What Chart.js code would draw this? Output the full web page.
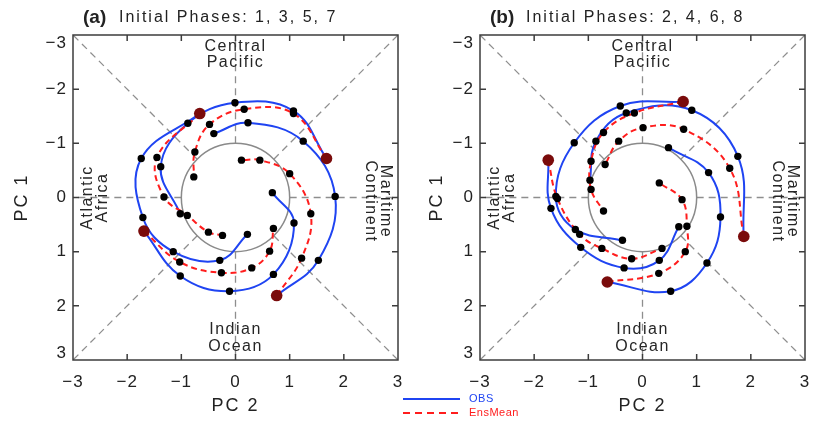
<!DOCTYPE html>
<html>
<head>
<meta charset="utf-8">
<title>MJO phase diagrams</title>
<script src="https://cdn.jsdelivr.net/npm/chart.js@4.4.1/dist/chart.umd.min.js"></script>
<style>
  html, body { margin: 0; padding: 0; background: #fff; }
  #wrap { position: relative; width: 817px; height: 424px; overflow: hidden; background: #fff; }
  #wrap canvas { position: absolute; top: 0; }
  #chartA { left: 0; }
  #chartB { left: 400px; }
</style>
</head>
<body>
<div id="wrap">
  <canvas id="chartA" width="410" height="424"></canvas>
  <canvas id="chartB" width="417" height="424"></canvas>
</div>
<script>
// Axis ticks shared by both panels (PC 2 across, PC 1 down, reversed)
const AXIS_TICKS = [-3, -2, -1, 0, 1, 2, 3];
const TICK_LABELS = ['\u22123', '\u22122', '\u22121', '0', '1', '2', '3'];

// Panel (a), initial phases 1, 3, 5, 7. Each point is [PC 2, PC 1];
// first point is the start, the rest are the 5-day markers.
const obsA1 = [[-0.66, -1.55], [-1.74, -0.72], [-1.71, 0.37], [-1.15, 1.00], [-0.29, 1.16], [0.22, 0.68]];
const ensA1 = [[-0.66, -1.55], [-1.45, -0.74], [-1.32, -0.01], [-0.89, 0.33], [-0.50, 0.64], [-0.24, 0.70]];
const obsA2 = [[1.68, -0.72], [1.07, -1.60], [-0.01, -1.75], [-0.88, -1.37], [-1.38, -0.57], [-1.02, 0.30]];
const ensA2 = [[1.68, -0.72], [1.07, -1.55], [0.16, -1.63], [-0.48, -1.35], [-0.75, -0.84], [-0.77, -0.38]];
const obsA3 = [[-1.69, 0.62], [-1.02, 1.45], [-0.11, 1.73], [0.70, 1.42], [1.08, 0.47], [0.68, -0.09]];
const ensA3 = [[-1.69, 0.62], [-1.03, 1.19], [-0.26, 1.39], [0.30, 1.30], [0.63, 0.99], [0.70, 0.57]];
const obsA4 = [[0.76, 1.81], [1.53, 1.16], [1.84, -0.02], [1.25, -1.04], [0.23, -1.38], [-0.40, -1.18]];
const ensA4 = [[0.76, 1.81], [1.22, 1.12], [1.39, 0.30], [1.00, -0.44], [0.45, -0.69], [0.11, -0.69]];

// Panel (b), initial phases 2, 4, 6, 8
const obsB1 = [[0.75, -1.77], [-0.41, -1.69], [-1.26, -1.01], [-1.60, -0.02], [-1.24, 0.59], [-0.37, 0.79]];
const ensB1 = [[0.75, -1.77], [-0.15, -1.56], [-0.72, -1.20], [-0.95, -0.67], [-0.95, -0.15], [-0.72, 0.25]];
const obsB2 = [[-1.74, -0.69], [-1.69, 0.20], [-1.14, 0.92], [-0.34, 1.30], [0.31, 1.16], [0.67, 0.54]];
const ensB2 = [[-1.74, -0.69], [-1.57, 0.02], [-1.16, 0.68], [-0.75, 0.94], [-0.20, 1.13], [0.36, 0.94]];
const obsB3 = [[1.87, 0.72], [1.76, -0.76], [0.91, -1.61], [-0.30, -1.56], [-0.86, -1.04], [-0.97, -0.32]];
const ensB3 = [[1.87, 0.72], [1.61, -0.54], [0.76, -1.26], [0.01, -1.29], [-0.44, -1.04], [-0.69, -0.61]];
const obsB4 = [[-0.65, 1.56], [0.52, 1.73], [1.19, 1.21], [1.44, 0.36], [1.22, -0.46], [0.48, -0.92]];
const ensB4 = [[-0.65, 1.56], [0.30, 1.40], [0.79, 1.00], [0.82, 0.53], [0.73, 0.04], [0.31, -0.27]];

// Dashed spokes run from the unit circle out to these frame points
const SPOKES = [[3, 0], [-3, 0], [0, 3], [0, -3], [3, 3], [-3, 3], [3, -3], [-3, -3]];

const OBS_COLOR = '#1f44f2';
const ENS_COLOR = '#ff1d1d';
const START_COLOR = '#7a0b0b';
const FONT = '"Liberation Sans", Arial, sans-serif';

const toPoint = ([x, y]) => ({ x, y });

function lineSet(track, color, dash) {
  return {
    data: track.map(toPoint),
    showLine: true,
    borderColor: color,
    borderWidth: 2,
    borderDash: dash,
    tension: 0.4,
    pointRadius: 0,
    order: 2,
  };
}

function buildDatasets(obsTracks, ensTracks) {
  const sets = [];
  ensTracks.forEach((t) => sets.push(lineSet(t, ENS_COLOR, [6, 4])));
  obsTracks.forEach((t) => sets.push(lineSet(t, OBS_COLOR, [])));
  // black 5-day markers on top of the lines
  const markers = [...obsTracks, ...ensTracks].flatMap((t) => t.slice(1));
  sets.push({
    data: markers.map(toPoint),
    showLine: false,
    pointRadius: 3.7,
    pointBackgroundColor: '#000',
    pointBorderWidth: 0,
    order: 1,
  });
  // dark red start points
  sets.push({
    data: obsTracks.map((t) => toPoint(t[0])),
    showLine: false,
    pointRadius: 5.8,
    pointBackgroundColor: START_COLOR,
    pointBorderWidth: 0,
    order: 0,
  });
  return sets;
}

function drawText(ctx, text, x, y, font, spacing, align) {
  ctx.font = font;
  ctx.letterSpacing = spacing;
  ctx.textAlign = align || 'center';
  ctx.fillText(text, x, y);
  ctx.letterSpacing = '0px';
}

// Frame, reference lines, region names, ticks, titles and legend
const phaseDiagram = {
  id: 'phaseDiagram',
  beforeDatasetsDraw(chart) {
    const { ctx, chartArea: area, scales } = chart;
    const px = (v) => scales.x.getPixelForValue(v);
    const py = (v) => scales.y.getPixelForValue(v);
    const cx = px(0), cy = py(0), r = px(1) - cx;
    ctx.save();
    ctx.strokeStyle = '#8e8e8e';
    ctx.lineWidth = 1.3;
    ctx.setLineDash([7, 5]);
    SPOKES.forEach(([sx, sy]) => {
      const len = Math.hypot(sx, sy);
      ctx.beginPath();
      ctx.moveTo(px(sx / len), py(sy / len));
      ctx.lineTo(px(sx), py(sy));
      ctx.stroke();
    });
    ctx.setLineDash([]);
    ctx.strokeStyle = '#8a8a8a';
    ctx.lineWidth = 1.5;
    ctx.beginPath();
    ctx.arc(cx, cy, r, 0, Math.PI * 2);
    ctx.stroke();

    ctx.fillStyle = '#262626';
    ctx.textBaseline = 'middle';
    const f = '16px ' + FONT;
    drawText(ctx, 'Central', cx, area.top + 12, f, '1.5px');
    drawText(ctx, 'Pacific', cx, area.top + 28, f, '1.5px');
    drawText(ctx, 'Indian', cx, area.bottom - 30, f, '1.5px');
    drawText(ctx, 'Ocean', cx, area.bottom - 13, f, '1.5px');
    ctx.save();
    ctx.translate(area.right - 13, cy + 4);
    ctx.rotate(Math.PI / 2);
    drawText(ctx, 'Maritime', 0, 0, f, '1.5px');
    drawText(ctx, 'Continent', 0, 15, f, '1.5px');
    ctx.restore();
    ctx.save();
    ctx.translate(area.left + 15, cy);
    ctx.rotate(-Math.PI / 2);
    drawText(ctx, 'Atlantic', 0, 0, f, '1.5px');
    drawText(ctx, 'Africa', 0, 15, f, '1.5px');
    ctx.restore();
    ctx.restore();
  },
  afterDraw(chart, args, opts) {
    const { ctx, chartArea: area, scales } = chart;
    const px = (v) => scales.x.getPixelForValue(v);
    const py = (v) => scales.y.getPixelForValue(v);
    const cx = px(0), cy = py(0);
    ctx.save();
    ctx.strokeStyle = '#3c3c3c';
    ctx.lineWidth = 1.5;
    ctx.strokeRect(area.left, area.top, area.right - area.left, area.bottom - area.top);
    const tl = 6;
    ctx.beginPath();
    AXIS_TICKS.slice(1, -1).forEach((v) => {
      ctx.moveTo(px(v), area.bottom); ctx.lineTo(px(v), area.bottom - tl);
      ctx.moveTo(px(v), area.top); ctx.lineTo(px(v), area.top + tl);
      ctx.moveTo(area.left, py(v)); ctx.lineTo(area.left + tl, py(v));
      ctx.moveTo(area.right, py(v)); ctx.lineTo(area.right - tl, py(v));
    });
    ctx.stroke();

    ctx.fillStyle = '#222';
    ctx.textBaseline = 'middle';
    const tf = '17px ' + FONT;
    AXIS_TICKS.forEach((v, i) => {
      drawText(ctx, TICK_LABELS[i], px(v), area.bottom + 22, tf, '1px');
      const nudge = i === 0 ? 8 : i === AXIS_TICKS.length - 1 ? -7 : 0;
      drawText(ctx, TICK_LABELS[i], area.left - 6, py(v) + nudge, tf, '1px', 'right');
    });

    drawText(ctx, 'PC 2', cx, area.bottom + 46, '18px ' + FONT, '2px');
    ctx.save();
    ctx.translate(opts.pc1X, cy);
    ctx.rotate(-Math.PI / 2);
    drawText(ctx, 'PC 1', 0, 0, '18px ' + FONT, '2px');
    ctx.restore();

    drawText(ctx, opts.tag, area.left + 10, 18, 'bold 19px ' + FONT, '0px', 'left');
    drawText(ctx, opts.title, area.left + 46, 18, '16px ' + FONT, '2px', 'left');

    if (opts.legendX !== null) {
      const lx = opts.legendX;
      ctx.lineWidth = 2;
      ctx.strokeStyle = OBS_COLOR;
      ctx.beginPath(); ctx.moveTo(lx, 399); ctx.lineTo(lx + 57, 399); ctx.stroke();
      ctx.strokeStyle = ENS_COLOR;
      ctx.setLineDash([7, 5]);
      ctx.beginPath(); ctx.moveTo(lx, 413); ctx.lineTo(lx + 57, 413); ctx.stroke();
      ctx.setLineDash([]);
      ctx.fillStyle = OBS_COLOR;
      drawText(ctx, 'OBS', lx + 66, 399, '11px ' + FONT, '0.5px', 'left');
      ctx.fillStyle = ENS_COLOR;
      drawText(ctx, 'EnsMean', lx + 66, 413, '11px ' + FONT, '0.5px', 'left');
    }
    ctx.restore();
  },
};

function makeChart(id, obsTracks, ensTracks, padding, opts) {
  return new Chart(document.getElementById(id), {
    type: 'scatter',
    data: { datasets: buildDatasets(obsTracks, ensTracks) },
    options: {
      responsive: false,
      animation: false,
      devicePixelRatio: 1,
      layout: { padding },
      scales: {
        x: { type: 'linear', min: -3, max: 3, display: false },
        y: { type: 'linear', min: -3, max: 3, reverse: true, display: false },
      },
      plugins: {
        legend: { display: false },
        tooltip: { enabled: false },
        phaseDiagram: opts,
      },
    },
    plugins: [phaseDiagram],
  });
}

makeChart('chartA',
  [obsA1, obsA2, obsA3, obsA4], [ensA1, ensA2, ensA3, ensA4],
  { left: 73, right: 12, top: 35, bottom: 64 },
  { tag: '(a)', title: 'Initial Phases: 1, 3, 5, 7', pc1X: 22, legendX: null });

makeChart('chartB',
  [obsB1, obsB2, obsB3, obsB4], [ensB1, ensB2, ensB3, ensB4],
  { left: 80, right: 12, top: 35, bottom: 64 },
  { tag: '(b)', title: 'Initial Phases: 2, 4, 6, 8', pc1X: 37, legendX: 3 });
</script>
</body>
</html>
